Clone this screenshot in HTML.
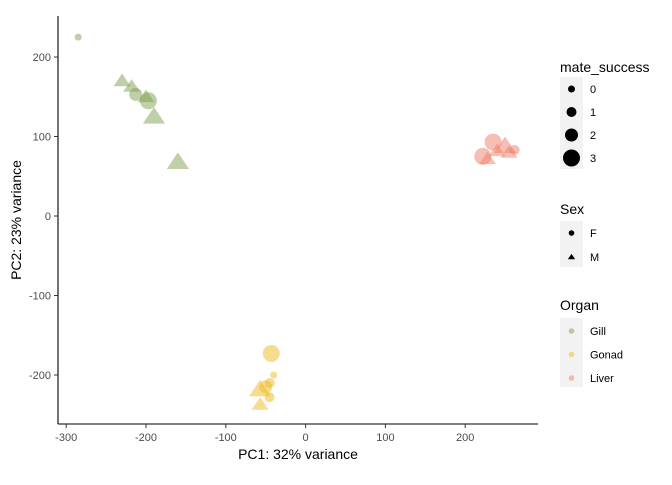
<!DOCTYPE html>
<html><head><meta charset="utf-8"><style>
body{margin:0;background:#fff;font-family:"Liberation Sans",Arial,sans-serif}
svg text{font-family:"Liberation Sans",Arial,sans-serif}
</style></head><body>
<svg id="chart" width="672" height="480">
<g id="axes"></g><g id="points"></g><g id="legend"></g>
</svg>
<script>
const pc1 = [-285,-230,-218,-213,-197,-200,-190,-160, -43,-40,-45,-50,-57,-45,-57, 235,222,228,240,250,255,262];
const pc2 = [225,170,163,153,145,150,125,68, -173,-200,-210,-215,-218,-228,-237, 93,75,72,82,88,80,83];
const organ = ["Gill","Gill","Gill","Gill","Gill","Gill","Gill","Gill","Gonad","Gonad","Gonad","Gonad","Gonad","Gonad","Gonad","Liver","Liver","Liver","Liver","Liver","Liver","Liver"];
const sex = ["F","M","M","F","F","M","M","M","F","F","F","F","M","F","M","F","F","M","M","M","M","F"];
const mate = [0,2,2,2,3,2,3,3,3,0,1,2,3,1,2,3,3,2,2,3,2,1];
const xTicks = [-300,-200,-100,0,100,200];
const yTicks = [-200,-100,0,100,200];
const organColors = {Gill:"#7f9f50",Gonad:"#f0b820",Liver:"#f08068"};
const sizeR = [3.5,5,6.5,8.5];
const NS="http://www.w3.org/2000/svg";
const X = v => 305.6 + v*0.798;
const Y = v => 216 - v*0.795;
function mk(tag, attrs, parent){const e=document.createElementNS(NS,tag);for(const k in attrs)e.setAttribute(k,attrs[k]);parent.appendChild(e);return e;}
const axes=document.getElementById('axes');
const ax=mk('line',{x1:58,y1:424,x2:538,y2:424,stroke:'#000','stroke-width':1.1},axes);


const ay=mk('line',{x1:58,y1:16,x2:58,y2:424,stroke:'#000','stroke-width':1.1},axes);


xTicks.forEach(t=>{
  mk('line',{x1:X(t),y1:424,x2:X(t),y2:428,stroke:'#333'},axes);
  const tx=mk('text',{x:X(t),y:441,'text-anchor':'middle','font-size':11,fill:'#4d4d4d'},axes);
  tx.textContent=t;
  
  
});
yTicks.forEach(t=>{
  mk('line',{x1:54,y1:Y(t),x2:58,y2:Y(t),stroke:'#333'},axes);
  const tx=mk('text',{x:51,y:Y(t)+4,'text-anchor':'end','font-size':11,fill:'#4d4d4d'},axes);
  tx.textContent=t;
  
  
});
const xt=mk('text',{x:298,y:459,'text-anchor':'middle','font-size':14},axes);
xt.textContent='PC1: 32% variance';


const yt=mk('text',{x:21,y:220,'text-anchor':'middle','font-size':14,transform:'rotate(-90 21 220)'},axes);
yt.textContent='PC2: 23% variance';


function shape(cx,cy,r,s,fill,op,parent){
  let e;
  if(s==='F') e=mk('circle',{cx:cx,cy:cy,r:r,fill:fill,'fill-opacity':op},parent);
  else { const h=r*1.5; e=mk('polygon',{points:`${cx},${cy-h*0.75} ${cx-h*0.87},${cy+h*0.55} ${cx+h*0.87},${cy+h*0.55}`,fill:fill,'fill-opacity':op},parent); }
  return e;
}
const pts=document.getElementById('points');
pc1.forEach((v,i)=>{
  const e=shape(X(v),Y(pc2[i]),sizeR[mate[i]],sex[i],organColors[organ[i]],0.5,pts);
  
  
});
const lg=document.getElementById('legend');
function title(t,y){const e=mk('text',{x:560,y:y,'font-size':14},lg);e.textContent=t;}
function label(t,y){const e=mk('text',{x:590,y:y+4,'font-size':11},lg);e.textContent=t;}
title('mate_success',72);
mk('rect',{x:560,y:77,width:23,height:92,fill:'#f2f2f2'},lg);
[0,1,2,3].forEach((m,i)=>{const y=89+i*23;const c=mk('circle',{cx:571.5,cy:y,r:sizeR[m],fill:'#000'},lg);label(String(m),y);});
title('Sex',214);
mk('rect',{x:560,y:221,width:23,height:46,fill:'#f2f2f2'},lg);
shape(571.5,233,2.8,'F','#000',1,lg);label('F',233);
shape(571.5,257,2.8,'M','#000',1,lg);label('M',257);
title('Organ',310);
mk('rect',{x:560,y:318,width:23,height:69,fill:'#f2f2f2'},lg);
['Gill','Gonad','Liver'].forEach((o,i)=>{const y=331+i*23.5;shape(571.5,y,2.8,'F',organColors[o],0.5,lg);label(o,y);});
</script>
</body></html>
